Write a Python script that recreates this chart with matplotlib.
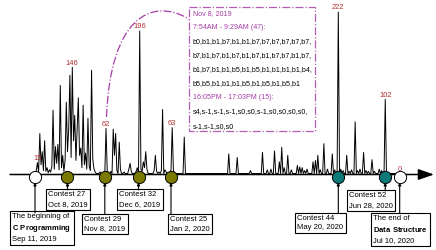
import matplotlib
matplotlib.use('Agg')
import matplotlib.pyplot as plt
import numpy as np
import pandas as pd
from matplotlib.path import Path
from matplotlib.patches import PathPatch, Rectangle
from matplotlib.transforms import blended_transform_factory

plt.rcParams['font.family'] = 'Liberation Sans'
plt.rcParams['mathtext.fontset'] = 'custom'
plt.rcParams['mathtext.rm'] = 'Liberation Sans'
plt.rcParams['mathtext.bf'] = 'Liberation Sans:bold'

start = pd.Timestamp('2019-09-11')
end = pd.Timestamp('2020-07-10')

# submissions per day, day 0 = Sep 11 2019 (days not listed are 0)
active_days = [1, 2, 3, 4, 5, 6, 7, 8, 9, 10, 11, 12, 13, 14, 15, 16, 17, 18, 19, 20,
               21, 22, 23, 24, 25, 26, 27, 28, 29, 30, 31, 32, 33, 34, 35, 36, 37, 38, 39, 40,
               41, 42, 43, 44, 45, 46, 47, 48, 49, 50, 54, 59, 60,
               63, 65, 66, 67, 68, 70, 71, 74, 78, 79, 80, 84, 85, 87, 88, 89, 90, 91, 92, 93,
               99, 100, 101, 103, 105, 106, 108, 109, 113, 114, 115, 124,
               161, 168, 179, 189, 193, 196, 199, 203, 205, 207, 210, 213, 218, 220, 222,
               224, 226, 231, 233, 235, 237, 240, 243, 247, 249, 252, 254, 256, 259, 261,
               263, 266, 268, 270, 273, 275, 277, 280, 282, 286, 288, 291, 292]
active_counts = [3, 15, 2, 55, 12, 30, 4, 45, 3, 8, 1, 5, 2, 10, 87, 6, 37, 14, 40, 5,
                 121, 8, 25, 3, 18, 98, 30, 62, 135, 22, 146, 45, 80, 18, 62, 104, 25, 35, 8, 94,
                 12, 28, 6, 76, 10, 4, 142, 20, 6, 2, 2, 62, 4,
                 3, 61, 25, 55, 4, 43, 5, 2, 6, 14, 3, 3, 8, 196, 6, 3, 16, 8, 30, 6,
                 4, 25, 3, 2, 4, 88, 5, 2, 5, 63, 4, 50,
                 27, 22, 4, 29, 5, 6, 31, 16, 36, 8, 25, 5, 11, 9, 8,
                 4, 6, 16, 18, 25, 5, 41, 6, 27, 5, 222, 6, 4, 25, 3,
                 5, 71, 4, 6, 29, 4, 3, 19, 3, 6, 4, 102, 2]

peak_days = [2, 31, 59, 87, 114, 252, 291, 303]
peak_labels = ['15', '146', '62', '196', '63', '222', '102', '0']

event_dates = ['2019-09-11', '2019-10-08', '2019-11-08', '2019-12-06',
               '2020-01-02', '2020-05-20', '2020-06-28', '2020-07-10']
event_titles = ['The beginning of', 'Contest 27', 'Contest 29', 'Contest 32',
                'Contest 25', 'Contest 44', 'Contest 52', 'The end of']
event_subjects = ['C Programming', '', '', '', '', '', '', 'Data Structure']
event_colors = ['white', '#7a7a00', '#7a7a00', '#7a7a00', '#7a7a00',
                '#0b7a78', '#0b7a78', 'white']
# label boxes (pixel layout): left edge, top edge, vertical centre
box_left = [10, 46, 82, 117, 168, 295, 347, 371]
box_top = [213, 190, 214, 190, 214, 213, 191, 213]
box_mid = [228, 199.5, 224, 199.5, 224, 223, 200.5, 229.5]

purple = '#a63da6'
note_lines = [('Nov 8, 2019', purple),
              ('7:54AM - 9:29AM (47):', purple),
              ('b0,b1,b1,b7,b1,b1,b7,b7,b7,b7,b7,b7,', 'black'),
              ('b7,b1,b7,b1,b7,b1,b7,b1,b7,b7,b1,b7,', 'black'),
              ('b1,b7,b1,b1,b5,b1,b5,b1,b1,b1,b1,b4,', 'black'),
              ('b5,b5,b1,b1,b1,b5,b1,b5,b1,b5,b1', 'black'),
              ('16:05PM - 17:03PM (15):', purple),
              ('s4,s-1,s-1,s-1,s0,s0,s-1,s0,s0,s0,s0,', 'black'),
              ('s-1,s-1,s0,s0', 'black')]

n_days = (end - start).days + 1
days = np.arange(n_days)
counts = np.zeros(n_days)
counts[active_days] = active_counts
ev_days = [(pd.Timestamp(d) - start).days for d in event_dates]

fig = plt.figure(figsize=(4.36, 2.5), dpi=100)

# pixel layer underneath for boxes / axis arrow
lay = fig.add_axes([0, 0, 1, 1])
lay.axis('off')
lay.set_xlim(0, 436)
lay.set_ylim(250, 0)

ax = fig.add_axes([0, 0, 1, 1])
ax.axis('off')
px_day, px_val = 1.2036, 0.7275
x0, y0 = 35, 173.5
ax.set_xlim(-x0 / px_day, (436 - x0) / px_day)
ax.set_ylim(-(250 - y0) / px_val, y0 / px_val)
blend = blended_transform_factory(ax.transData, lay.transData)

# time axis
lay.annotate('', xy=(434, 174.5), xytext=(10, 174.5),
             arrowprops=dict(arrowstyle='-|>,head_length=0.95,head_width=0.33',
                             mutation_scale=10, lw=1.1, color='black',
                             shrinkA=0, shrinkB=0))

ax.plot(days, counts, color='black', lw=0.7, zorder=2)

for d, lab in zip(peak_days, peak_labels):
    ax.annotate(lab, (d, counts[d]), xytext=(0, 2), textcoords='offset points',
                ha='center', va='baseline', fontsize=5.4, color='#b03030')

for i, d in enumerate(ev_days):
    ax.plot(d, 176.5, 'o', ms=8.8, mfc=event_colors[i], mec='black', mew=0.7,
            transform=blend, zorder=4)
    ax.annotate('', xy=(d, 182.5), xycoords=blend, xytext=(d, box_top[i]),
                textcoords=blend,
                arrowprops=dict(arrowstyle='-|>', mutation_scale=4, lw=0.8,
                                color='black', shrinkA=0, shrinkB=0))
    dt = pd.Timestamp(event_dates[i])
    lines = [event_titles[i]]
    if event_subjects[i]:
        lines.append(r'$\bf{' + event_subjects[i].replace(' ', r'\ ') + '}$')
    lines.append(f'{dt:%b} {dt.day}, {dt.year}')
    lay.text(box_left[i] + 2.3, box_mid[i], '\n'.join(lines), ha='left', va='center',
             fontsize=5.5, linespacing=1.45,
             bbox=dict(boxstyle='square,pad=0.3', fc='white', ec='black', lw=0.8))

# callout for Nov 8
lay.add_patch(Rectangle((189, 7), 126, 124, fill=False, ec='#b35eb3', ls='-.', lw=0.9))
for i, (txt, col) in enumerate(note_lines):
    lay.text(192.7, 13.3 + 14.1 * i, txt, color=col, fontsize=5.1, ha='left', va='center')
curve = Path([(106.5, 117), (110, 20), (150, -4), (189, 19)],
             [Path.MOVETO, Path.CURVE4, Path.CURVE4, Path.CURVE4])
lay.add_patch(PathPatch(curve, fill=False, ec=purple, ls='-.', lw=0.9))

fig.savefig('out.png', dpi=100)
